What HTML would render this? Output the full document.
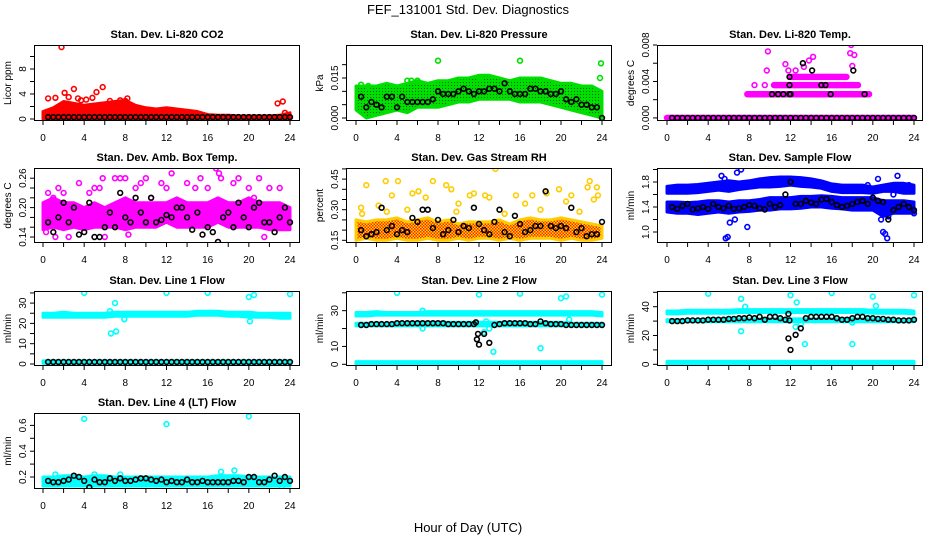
<!DOCTYPE html>
<html><head><meta charset="utf-8">
<style>
html,body{margin:0;padding:0;background:#fff;}
svg{display:block;font-family:"Liberation Sans",Arial,sans-serif;}
</style></head>
<body>
<svg id="chart" width="936" height="540" viewBox="0 0 936 540" xmlns="http://www.w3.org/2000/svg">
<defs>
<pattern id="greenDots" width="3" height="3" patternUnits="userSpaceOnUse"><rect width="3" height="3" fill="#00e000"/><rect x="1" y="1" width="1" height="1" fill="#006000"/></pattern>
<pattern id="rhDots" width="3" height="3" patternUnits="userSpaceOnUse"><rect width="3" height="3" fill="#ffdd00"/><rect x="0" y="0" width="1.5" height="1.5" fill="#ff2000"/><rect x="1.5" y="1.5" width="1.5" height="1.5" fill="#ff2000"/></pattern>
</defs>
<text x="468" y="14" text-anchor="middle" font-size="13">FEF_131001  Std. Dev. Diagnostics</text>
<text x="468" y="532" text-anchor="middle" font-size="13">Hour of Day (UTC)</text>
</svg>
<script>
// ---------- shared data ----------
const HOURS = [0,1,2,3,4,5,6,7,8,9,10,11,12,13,14,15,16,17,18,19,20,21,22,23,24];
const BLACK_HOURS = [0.5,1,1.5,2,2.5,3,3.5,4,4.5,5,5.5,6,6.5,7,7.5,8,8.5,9,9.5,10,10.5,11,11.5,12,12.5,13,13.5,14,14.5,15,15.5,16,16.5,17,17.5,18,18.5,19,19.5,20,20.5,21,21.5,22,22.5,23,23.5,24];
const X_TICKS = [0,2,4,6,8,10,12,14,16,18,20,22,24];
const X_LABELS = [0,4,8,12,16,20,24];

// P1 CO2
const co2BandLo = [0,0,0,0,0,0,0,0,0,0,0,0,0,0,0,0,0,0,0,0,0,0,0,0,0];
const co2BandHi = [1.2,1.8,2.8,2.5,2.2,2.4,2.6,2.8,3.0,2.2,1.8,1.6,1.8,1.6,1.4,1.2,0.7,0.6,0.6,0.5,0.5,0.5,0.5,0.6,1.0];
const co2OutH = [1.8,0.5,1.2,2.1,2.5,3.0,3.4,3.7,4.2,4.8,5.2,5.8,8.2,22.8,23.3,7.5,6.5,8.0,23.5];
const co2OutV = [11.5,3.3,3.4,4.2,3.5,4.8,3.3,3.0,3.1,3.4,4.3,5.1,3.3,2.5,2.8,3.0,2.9,2.9,1.0];
const co2Black = [0.3,0.3,0.3,0.3,0.3,0.3,0.3,0.3,0.3,0.3,0.3,0.3,0.3,0.3,0.3,0.3,0.3,0.3,0.3,0.3,0.3,0.3,0.3,0.3,0.3,0.3,0.3,0.3,0.3,0.3,0.3,0.3,0.3,0.3,0.3,0.3,0.3,0.3,0.3,0.3,0.3,0.3,0.3,0.3,0.3,0.3,0.3,0.3];

// P2 Pressure
const presBandLo = [0.003,0,0.001,0.002,0.003,0.002,0.004,0.004,0.004,0.005,0.006,0.006,0.007,0.007,0.007,0.007,0.006,0.006,0.006,0.005,0.004,0.003,0.002,0.001,0];
const presBandHi = [0.012,0.012,0.012,0.013,0.012,0.013,0.014,0.013,0.014,0.014,0.015,0.015,0.016,0.016,0.015,0.014,0.015,0.015,0.015,0.014,0.013,0.013,0.012,0.012,0.010];
const presOutH = [8,16,23.9,0.5,1.2,5,5.4,6,12.1,23.8];
const presOutV = [0.0215,0.0215,0.0205,0.0125,0.012,0.014,0.014,0.014,0.015,0.015];
const presBlack = [0.008,0.004,0.006,0.005,0.004,0.008,0.008,0.004,0.008,0.006,0.006,0.006,0.006,0.006,0.007,0.010,0.009,0.009,0.009,0.010,0.011,0.010,0.009,0.010,0.010,0.011,0.011,0.010,0.013,0.010,0.009,0.009,0.009,0.011,0.011,0.010,0.010,0.009,0.009,0.010,0.007,0.006,0.007,0.005,0.005,0.004,0.004,0.000];

// P3 Li-820 Temp (level segments)
const tempLevel = [0,0.0026,0.0036,0.0045];
const tempStart = [0,7.8,10.4,12.0];
const tempEnd = [24,19.7,18.6,17.5];
const tempOutH = [9.8,9.7,11.5,11.8,12.5,13.3,13.8,14.2,17.9,17.8,18.2,18.0,8.5,9.5];
const tempOutV = [0.0073,0.0052,0.0059,0.0052,0.0052,0.0056,0.0063,0.0067,0.0080,0.0071,0.0069,0.0057,0.0036,0.0036];
const tempBlack = [0,0,0,0,0,0,0,0,0,0,0,0,0,0,0,0,0,0,0,0,0,0,0,0,0,0,0,0,0,0,0,0,0,0,0,0,0,0,0,0,0,0,0,0,0,0,0,0];
const tempBlackExH = [10.2,10.8,11.3,11.9,11.9,11.9,13.2,14.1,15.0,15.4,15.9,18.1,19.2,12.0];
const tempBlackExV = [0.0026,0.0026,0.0026,0.0026,0.0036,0.0045,0.0060,0.0052,0.0036,0.0036,0.0026,0.0052,0.0026,0.0026];

// P4 Amb Box Temp
const ambBandLo = [0.155,0.16,0.155,0.16,0.155,0.16,0.16,0.16,0.155,0.16,0.16,0.16,0.17,0.16,0.16,0.16,0.16,0.17,0.16,0.16,0.16,0.16,0.155,0.155,0.155];
const ambBandHi = [0.21,0.22,0.21,0.21,0.20,0.21,0.20,0.21,0.22,0.21,0.21,0.21,0.21,0.22,0.21,0.21,0.21,0.22,0.21,0.21,0.22,0.21,0.21,0.21,0.20];
const ambOutH = [0.5,0.3,1,1.5,2,2.5,3,3.5,4.5,5,5.5,5.8,6,7,7.5,8,9,9.5,10,10.5,11.5,12,12.5,14,14.8,15.3,16,16.8,17.1,17.3,17,18.5,19,20,21,21.5,22,23,20.5,13.5,1.2,8.3];
const ambOutV = [0.23,0.15,0.22,0.24,0.23,0.14,0.20,0.25,0.23,0.24,0.24,0.26,0.14,0.26,0.26,0.26,0.24,0.25,0.26,0.22,0.25,0.24,0.27,0.25,0.24,0.26,0.24,0.28,0.27,0.26,0.13,0.25,0.26,0.24,0.26,0.14,0.24,0.24,0.22,0.21,0.14,0.145];
const ambBlack = [0.17,0.15,0.18,0.21,0.17,0.20,0.145,0.15,0.21,0.14,0.14,0.16,0.19,0.16,0.23,0.18,0.17,0.22,0.19,0.17,0.22,0.17,0.175,0.185,0.18,0.20,0.20,0.18,0.155,0.19,0.145,0.16,0.15,0.13,0.18,0.19,0.16,0.21,0.18,0.16,0.20,0.21,0.17,0.17,0.15,0.18,0.20,0.17];

// P5 Gas Stream RH
const rhBandLo = [0.15,0.16,0.15,0.15,0.16,0.15,0.15,0.16,0.15,0.15,0.16,0.15,0.16,0.16,0.15,0.16,0.15,0.16,0.16,0.16,0.15,0.16,0.15,0.15,0.16];
const rhBandHi = [0.25,0.24,0.25,0.25,0.26,0.24,0.25,0.26,0.24,0.25,0.23,0.24,0.24,0.24,0.25,0.23,0.25,0.26,0.25,0.25,0.26,0.25,0.24,0.23,0.22];
const rhOutH = [1,2.9,4.1,5.5,6.1,7.5,8.8,9.3,10,11.1,11.5,12.6,13.6,15.6,17.2,18.6,19.8,21,22.6,22.8,23.5,23.6,23.2,13,6.8,3.5,0.5,2.2,16.5,20.5,0.6,3.0,5.0,9.8,14.5,18.0,21.8];
const rhOutV = [0.42,0.44,0.44,0.38,0.39,0.44,0.42,0.40,0.33,0.37,0.38,0.37,0.50,0.37,0.37,0.38,0.40,0.37,0.41,0.44,0.41,0.37,0.35,0.36,0.36,0.37,0.31,0.32,0.33,0.34,0.28,0.29,0.30,0.29,0.28,0.30,0.29];
const rhBlack = [0.20,0.17,0.18,0.19,0.31,0.20,0.22,0.18,0.20,0.19,0.26,0.24,0.30,0.30,0.21,0.25,0.18,0.20,0.25,0.19,0.22,0.21,0.31,0.23,0.20,0.18,0.24,0.30,0.19,0.17,0.27,0.23,0.19,0.20,0.22,0.22,0.39,0.22,0.21,0.22,0.21,0.31,0.19,0.21,0.17,0.18,0.18,0.24];

// P6 Sample Flow
const flowLowLo = [1.32,1.30,1.30,1.28,1.30,1.32,1.30,1.32,1.33,1.35,1.35,1.37,1.37,1.38,1.40,1.40,1.38,1.37,1.35,1.35,1.35,1.25,1.30,1.30,1.30];
const flowLowHi = [1.48,1.48,1.47,1.48,1.50,1.50,1.48,1.50,1.50,1.52,1.55,1.55,1.55,1.57,1.57,1.58,1.57,1.55,1.55,1.55,1.55,1.50,1.50,1.50,1.48];
const flowUpLo = [1.62,1.62,1.62,1.63,1.65,1.67,1.65,1.68,1.70,1.72,1.72,1.73,1.75,1.73,1.72,1.70,1.65,1.63,1.63,1.63,1.62,1.65,1.65,1.62,1.62];
const flowUpHi = [1.73,1.75,1.75,1.76,1.78,1.80,1.82,1.80,1.82,1.85,1.87,1.88,1.88,1.87,1.85,1.82,1.77,1.75,1.75,1.75,1.72,1.75,1.78,1.78,1.75];
const flowOutH = [5.7,5.9,6.1,6.6,7.8,6.8,7.2,5.6,21.0,21.2,21.4,20.8,21.5,22,22.4,23.5,24,19.5,20.5,5.3];
const flowOutV = [0.9,0.92,1.15,1.2,1.08,1.95,2.0,1.85,1.0,0.97,0.9,1.2,1.25,1.6,1.9,1.75,1.3,1.75,1.85,1.9];
const flowBlack = [1.40,1.37,1.42,1.45,1.36,1.38,1.40,1.37,1.45,1.40,1.38,1.42,1.37,1.38,1.40,1.43,1.42,1.38,1.36,1.45,1.40,1.43,1.60,1.80,1.45,1.45,1.50,1.47,1.45,1.52,1.53,1.48,1.43,1.40,1.42,1.45,1.48,1.50,1.45,1.55,1.50,1.48,1.20,1.35,1.40,1.45,1.40,1.35];

// P7 Line 1 Flow
const l1HiLo = [23,23,23,23,23,23,23,23.5,23.5,23.5,23.5,23.5,23.5,23.5,23.5,24,24,24,23.5,23.5,23,23,23,22.5,22.5];
const l1HiHi = [25,25,25.5,25,25,25,25,25.5,25.5,25.5,25.5,25.5,25.5,25.5,25.5,26,26,26,25.5,25.5,25.5,25,25,25,25];
const l1LoLo = [0.3,0.3,0.3,0.3,0.3,0.3,0.3,0.3,0.3,0.3,0.3,0.3,0.3,0.3,0.3,0.3,0.3,0.3,0.3,0.3,0.3,0.3,0.3,0.3,0.3];
const l1LoHi = [1.5,1.5,1.5,1.5,1.5,1.5,1.5,1.5,1.5,1.5,1.5,1.5,1.5,1.5,1.5,1.5,1.5,1.5,1.5,1.5,1.5,1.5,1.5,1.5,1.5];
const l1OutH = [4,12,16,20,20.5,24,7,6.6,7.1,6.5,20.1,7.9];
const l1OutV = [35,35,35,33,34,34.5,30,15,16,26,21,22];
const l1Black = [1,1,1,1,1,1,1,1,1,1,1,1,1,1,1,1,1,1,1,1,1,1,1,1,1,1,1,1,1,1,1,1,1,1,1,1,1,1,1,1,1,1,1,1,1,1,1,1];

// P8 Line 2 Flow
const l2ALo = [27,27,27.5,27.5,27.5,27.5,27.5,27.5,27.5,27.5,27.5,27.5,27.5,27.5,27.5,27.5,27.5,27.5,27.5,27.5,27.5,27.5,27.5,27.5,27];
const l2AHi = [29,29,29.5,29,29,29,29,29.5,29.5,29.5,29.5,29.5,29.5,29.5,29.5,29.5,29.5,29.5,29.5,29.5,29.5,29.5,29.5,29.5,29];
const l2BLo = [21.5,21.5,21.5,21.5,21.5,21.5,21.5,21.5,21.5,21.5,21.5,21.5,21.5,21.5,21.5,21.5,21.5,21.5,21.5,21.5,21.5,21.5,21.5,21.5,21.5];
const l2BHi = [23,23,23,23,23,23,23.5,23.5,23.5,23.5,23.5,23.5,23.5,23.5,23.5,23.5,23.5,23.5,23.5,23.5,23.5,23,23,23,23];
const l2CLo = [0,0,0,0,0,0,0,0,0,0,0,0,0,0,0,0,0,0,0,0,0,0,0,0,0];
const l2CHi = [1.5,1.5,1.5,1.5,1.5,1.5,1.5,1.5,1.5,1.5,1.5,1.5,1.5,1.5,1.5,1.5,1.5,1.5,1.5,1.5,1.5,1.5,1.5,1.5,1.5];
const l2OutH = [4,12,16,20,20.5,24,13.4,18,6.5,12.7,13,6.5,12.5,20.8];
const l2OutV = [40,39,39.5,37,38,39,7,9,20,24,20,30,18,25];
const l2Black = [22,22,22.5,22.5,22.5,22.5,22.5,23,23,23,23,23,23,23,23,23,23,22.5,22.5,22.5,22.5,22.5,22.5,11,17,12,22,22.5,23,23,23,23,23,22.5,22.5,24,23,22.5,22.5,22.5,22,22,22,22,22,22,22,22];
const l2BlackExH = [11.8,11.9,11.7];
const l2BlackExV = [14,17,23.5];

// P9 Line 3 Flow
const l3ALo = [35,35,35.5,35.5,35.5,35.5,35.5,36,36,36,36,36,36,36,36,36,36,36,36,36,35.5,35.5,35.5,35.5,35];
const l3AHi = [37,37,37.5,37.5,37.5,37.5,37.5,38,38,38,38,38,38,38,38,38,38,38,38,38,37.5,37.5,37.5,37.5,37];
const l3BLo = [29.5,29.5,29.5,29.5,29.5,29.5,29.5,29.5,29.5,29.5,29.5,29.5,29.5,29.5,29.5,29.5,29.5,29.5,29.5,29.5,29.5,29.5,29.5,29.5,29.5];
const l3BHi = [31,31,31,31,31,31,31.5,31.5,31.5,31.5,31.5,31.5,31.5,31.5,31.5,31.5,31.5,31.5,31.5,31.5,31.5,31,31,31,31];
const l3CLo = [0,0,0,0,0,0,0,0,0,0,0,0,0,0,0,0,0,0,0,0,0,0,0,0,0];
const l3CHi = [2,2,2,2,2,2,2,2,2,2,2,2,2,2,2,2,2,2,2,2,2,2,2,2,2];
const l3OutH = [4,7.2,12,16,20,24,7.2,13.4,18,12.6,20.3,7.6,12.5,13,18];
const l3OutV = [49,45.5,48,49.5,47,48,23,14,14,43,40.5,40,26,28,29];
const l3Black = [30,30,30,30.5,30.5,30.5,30.5,31,31,31,31,31.5,31.5,32,32,32.5,32,33,31,33,33,32,31,10,20.5,25,32,33,33,33,33,33,32,31,31,32,33,33,32,32,31.5,31.5,31,31,30.5,30.5,30.5,31];
const l3BlackExH = [11.8,11.9,11.8];
const l3BlackExV = [18,30.5,35];

// P10 Line 4 Flow
const l4Lo = [0.13,0.13,0.13,0.13,0.13,0.13,0.13,0.13,0.13,0.13,0.13,0.13,0.13,0.13,0.13,0.13,0.13,0.13,0.13,0.13,0.13,0.13,0.13,0.13,0.13];
const l4Hi = [0.20,0.20,0.21,0.21,0.20,0.21,0.21,0.20,0.20,0.20,0.20,0.20,0.20,0.20,0.20,0.20,0.20,0.21,0.21,0.21,0.20,0.20,0.20,0.20,0.20];
const l4OutH = [4,12,20,17.3,18.6,1.2,5,7.5,23.2,4.5];
const l4OutV = [0.65,0.61,0.67,0.24,0.25,0.22,0.22,0.22,0.11,0.11];
const l4Black = [0.17,0.16,0.16,0.17,0.18,0.21,0.20,0.17,0.12,0.18,0.16,0.16,0.19,0.17,0.19,0.17,0.17,0.18,0.19,0.19,0.18,0.17,0.18,0.16,0.17,0.16,0.16,0.18,0.16,0.16,0.17,0.16,0.16,0.16,0.16,0.16,0.17,0.17,0.16,0.20,0.20,0.16,0.16,0.18,0.21,0.17,0.20,0.17];

// ---------- layout ----------
const COLS = [{l:34,r:300,x0:43,x24:290},{l:346,r:612,x0:356,x24:602},{l:657,r:923,x0:667,x24:914}];
const ROWS = [{t:45,b:121},{t:168,b:243},{t:291,b:366},{t:413,b:489}];
const NS = 'http://www.w3.org/2000/svg';
const svg = document.getElementById('chart');
function mk(tag, attrs, parent){const e=document.createElementNS(NS,tag);for(const k in attrs)e.setAttribute(k,attrs[k]);(parent||svg).appendChild(e);return e;}

const panels = [
 {name:'co2',title:'Stan. Dev. Li-820 CO2',ylab:'Licor ppm',col:0,row:0,ymin:-0.32,ymax:11.84,ticks:[0,2,4,6,8,10],labels:['0','','4','','8',''],
  color:'#ff0000',fill:'#ff0000',bands:[[co2BandLo,co2BandHi]],outH:co2OutH,outV:co2OutV,black:co2Black},
 {name:'pressure',title:'Stan. Dev. Li-820 Pressure',ylab:'kPa',col:1,row:0,ymin:-0.00112,ymax:0.02737,ticks:[0,0.005,0.01,0.015,0.02],labels:['0.000','','','0.015',''],
  color:'#00e000',fill:'url(#greenDots)',bands:[[presBandLo,presBandHi]],outH:presOutH,outV:presOutV,black:presBlack},
 {name:'li820-temp',title:'Stan. Dev. Li-820 Temp.',ylab:'degrees C',col:2,row:0,ymin:-0.000338,ymax:0.0080,ticks:[0,0.002,0.004,0.006,0.008],labels:['0.000','','0.004','','0.008'],
  color:'#ff00ff',fill:'#ff00ff',bands:[],levels:true,outH:tempOutH,outV:tempOutV,black:tempBlack,exH:tempBlackExH,exV:tempBlackExV},
 {name:'amb-box-temp',title:'Stan. Dev. Amb. Box Temp.',ylab:'degrees C',col:0,row:1,ymin:0.1278,ymax:0.2808,ticks:[0.14,0.16,0.18,0.2,0.22,0.24,0.26],labels:['0.14','','','0.20','','','0.26'],
  color:'#ff00ff',fill:'#ff00ff',bands:[[ambBandLo,ambBandHi]],outH:ambOutH,outV:ambOutV,black:ambBlack},
 {name:'gas-stream-rh',title:'Stan. Dev. Gas Stream RH',ylab:'percent',col:1,row:1,ymin:0.1368,ymax:0.5044,ticks:[0.15,0.2,0.25,0.3,0.35,0.4,0.45,0.5],labels:['0.15','','','0.30','','','0.45',''],
  color:'#ffcc00',fill:'url(#rhDots)',bands:[[rhBandLo,rhBandHi]],outH:rhOutH,outV:rhOutV,black:rhBlack},
 {name:'sample-flow',title:'Stan. Dev. Sample Flow',ylab:'ml/min',col:2,row:1,ymin:0.824,ymax:2.024,ticks:[1.0,1.2,1.4,1.6,1.8,2.0],labels:['1.0','','1.4','','1.8',''],
  color:'#0000ff',fill:'#0000ff',bands:[[flowLowLo,flowLowHi],[flowUpLo,flowUpHi]],outH:flowOutH,outV:flowOutV,black:flowBlack},
 {name:'line1-flow',title:'Stan. Dev. Line 1 Flow',ylab:'ml/min',col:0,row:2,ymin:-0.99,ymax:35.96,ticks:[0,5,10,15,20,25,30,35],labels:['0','','10','','20','','30',''],
  color:'#00ffff',fill:'#00ffff',bands:[[l1HiLo,l1HiHi],[l1LoLo,l1LoHi]],outH:l1OutH,outV:l1OutV,black:l1Black},
 {name:'line2-flow',title:'Stan. Dev. Line 2 Flow',ylab:'ml/min',col:1,row:2,ymin:-0.95,ymax:41.0,ticks:[0,10,20,30,40],labels:['0','10','','30',''],
  color:'#00ffff',fill:'#00ffff',bands:[[l2ALo,l2AHi],[l2BLo,l2BHi],[l2CLo,l2CHi]],outH:l2OutH,outV:l2OutV,black:l2Black,exH:l2BlackExH,exV:l2BlackExV},
 {name:'line3-flow',title:'Stan. Dev. Line 3 Flow',ylab:'ml/min',col:2,row:2,ymin:-1.18,ymax:50.9,ticks:[0,10,20,30,40,50],labels:['0','','20','','40',''],
  color:'#00ffff',fill:'#00ffff',bands:[[l3ALo,l3AHi],[l3BLo,l3BHi],[l3CLo,l3CHi]],outH:l3OutH,outV:l3OutV,black:l3Black,exH:l3BlackExH,exV:l3BlackExV},
 {name:'line4-flow',title:'Stan. Dev. Line 4 (LT) Flow',ylab:'ml/min',col:0,row:3,ymin:0.107,ymax:0.696,ticks:[0.2,0.3,0.4,0.5,0.6],labels:['0.2','','0.4','','0.6'],
  color:'#00ffff',fill:'#00ffff',bands:[[l4Lo,l4Hi]],outH:l4OutH,outV:l4OutV,black:l4Black}
];

function circ(g,x,y,color,name){
  const c = mk('circle',{cx:x.toFixed(1),cy:y.toFixed(1),r:2.4,fill:'none',stroke:color,'stroke-width':1.6},g);
  
  
  return c;
}

panels.forEach(p=>{
  const C=COLS[p.col], R=ROWS[p.row];
  const xs = h => C.x0 + (C.x24-C.x0)*h/24;
  const ys = v => R.b - (v-p.ymin)/(p.ymax-p.ymin)*(R.b-R.t);
  const g = mk('g',{});
  
  
  const cp = mk('clipPath',{id:'clip-'+p.name},g);
  mk('rect',{x:C.l,y:R.t,width:C.r-C.l,height:R.b-R.t},cp);
  const plot = mk('g',{'clip-path':'url(#clip-'+p.name+')'},g);
  
  
  p.bands.forEach((b,bi)=>{
    let pts=[];
    HOURS.forEach((h,i)=>pts.push(xs(h).toFixed(1)+','+ys(b[1][i]).toFixed(1)));
    for(let i=HOURS.length-1;i>=0;i--) pts.push(xs(HOURS[i]).toFixed(1)+','+ys(b[0][i]).toFixed(1));
    const poly = mk('polygon',{points:pts.join(' '),fill:p.fill,stroke:p.color,'stroke-width':3,'stroke-linejoin':'round'},plot);
    
    
  });
  if(p.levels){
    tempLevel.forEach((lv,i)=>{
      for(let h=tempStart[i]; h<=tempEnd[i]+1e-9; h+=0.08){
        circ(plot,xs(h),ys(lv),p.color,p.name+'-point');
      }
    });
  }
  p.outH.forEach((h,i)=>circ(plot,xs(h),ys(p.outV[i]),p.color,p.name+'-point'));
  BLACK_HOURS.forEach((h,i)=>circ(plot,xs(h),ys(p.black[i]),'#000',p.name+'-black-point'));
  if(p.exH) p.exH.forEach((h,i)=>circ(plot,xs(h),ys(p.exV[i]),'#000',p.name+'-black-point'));
  const box = mk('rect',{x:C.l+0.5,y:R.t+0.5,width:C.r-C.l-1,height:R.b-R.t-1,fill:'none',stroke:'#000','stroke-width':1},g);
  
  
  const t = mk('text',{x:(C.l+C.r)/2,y:R.t-7,'text-anchor':'middle','font-size':11,'font-weight':'bold'},g);
  t.textContent=p.title;
  
  
  const yl = mk('text',{x:0,y:0,'text-anchor':'middle','font-size':10,transform:`translate(${C.l-23},${(R.t+R.b)/2}) rotate(-90)`},g);
  yl.textContent=p.ylab;
  
  
  X_TICKS.forEach(h=>{
    const tk = mk('line',{x1:xs(h),x2:xs(h),y1:R.b,y2:R.b+4,stroke:'#000','stroke-width':1},g);
    
    
  });
  X_LABELS.forEach(h=>{
    const tl = mk('text',{x:xs(h),y:R.b+20,'text-anchor':'middle','font-size':10},g);
    tl.textContent=String(h);
    
    
  });
  p.ticks.forEach((v,i)=>{
    const y=ys(v);
    const tk = mk('line',{x1:C.l-4,x2:C.l,y1:y,y2:y,stroke:'#000','stroke-width':1},g);
    
    
    const lab = p.labels[i];
    if(!lab) return;
    const tl = mk('text',{x:0,y:0,'text-anchor':'middle','font-size':10,transform:`translate(${C.l-8},${y}) rotate(-90)`},g);
    tl.textContent=lab;
    
    
  });
});
</script>
</body></html>
